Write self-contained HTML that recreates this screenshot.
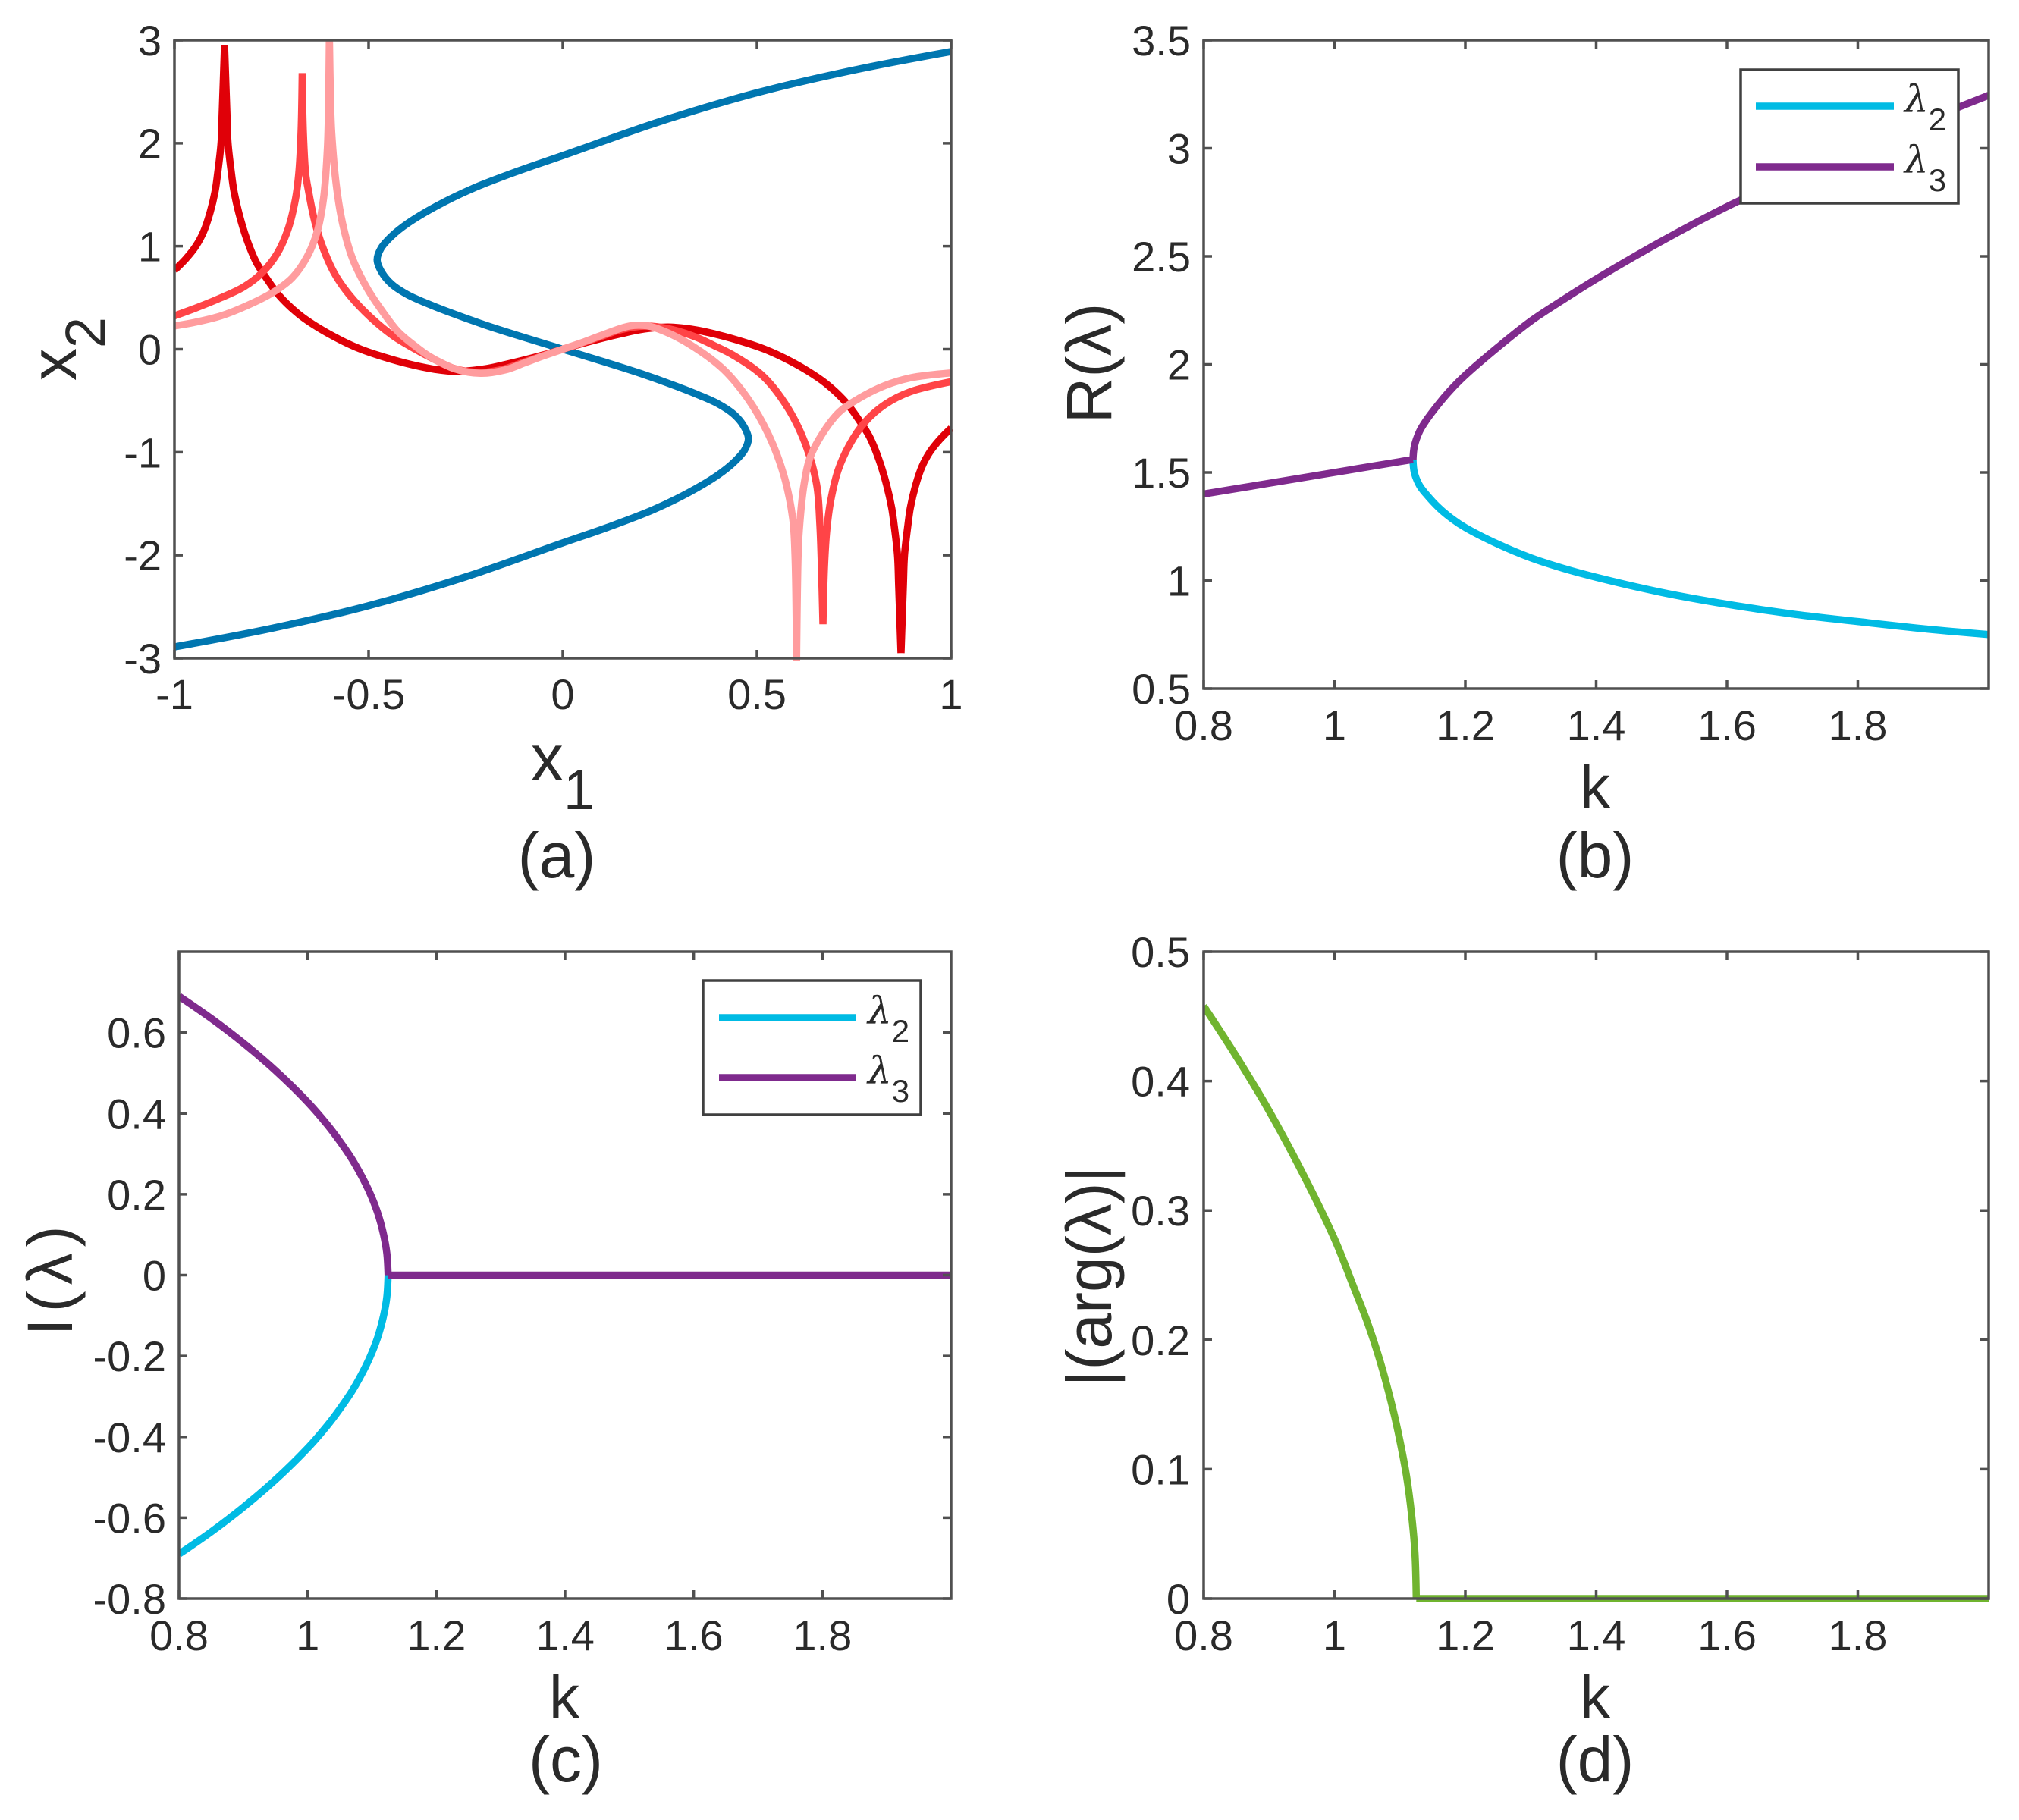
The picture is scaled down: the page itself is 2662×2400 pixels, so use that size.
<!DOCTYPE html>
<html>
<head>
<meta charset="utf-8">
<title>Four panel eigenvalue figure</title>
<style>
html,body{margin:0;padding:0;background:#fff;}
svg{display:block;}
text{font-family:"Liberation Sans",sans-serif;fill:#2a2a2a;}
</style>
</head>
<body>
<svg id="fig" xmlns="http://www.w3.org/2000/svg" width="2662" height="2400" viewBox="0 0 2662 2400">
<rect width="2662" height="2400" fill="#fff"/>
</svg>
<script>
// ---- Panel (a) data ----
const aXTicks = [-1, -0.5, 0, 0.5, 1];
const aXTickLabels = ['-1', '-0.5', '0', '0.5', '1'];
const aYTicks = [-3, -2, -1, 0, 1, 2, 3];
const aYTickLabels = ['-3', '-2', '-1', '0', '1', '2', '3'];
const blueX = [1, 0.75, 0.5, 0.25, 0, -0.115, -0.232, -0.325, -0.4, -0.44, -0.468, -0.478, -0.465, -0.44, -0.4, -0.35, -0.3, -0.2, -0.1, 0, 0.1, 0.2, 0.3, 0.35, 0.4, 0.44, 0.465, 0.478, 0.468, 0.44, 0.4, 0.325, 0.232, 0.115, 0, -0.25, -0.5, -0.75, -1];
const blueY = [2.89, 2.71, 2.49, 2.21, 1.88, 1.73, 1.56, 1.39, 1.22, 1.1, 0.98, 0.867, 0.74, 0.63, 0.53, 0.445, 0.37, 0.235, 0.115, 0, -0.115, -0.235, -0.37, -0.445, -0.53, -0.63, -0.74, -0.867, -0.98, -1.1, -1.22, -1.39, -1.56, -1.73, -1.88, -2.21, -2.49, -2.71, -2.89];
const red1X = [-1, -0.971, -0.945, -0.925, -0.908, -0.895, -0.889, -0.88, -0.877, -0.871, -0.865, -0.862, -0.853, -0.847, -0.834, -0.814, -0.79, -0.765, -0.73, -0.68, -0.63, -0.57, -0.52, -0.47, -0.4, -0.33, -0.27, -0.2, -0.15, -0.1, -0.05, 0, 0.05, 0.1, 0.15, 0.2, 0.27, 0.33, 0.4, 0.47, 0.52, 0.57, 0.63, 0.68, 0.73, 0.765, 0.79, 0.814, 0.834, 0.847, 0.853, 0.862, 0.865, 0.871, 0.877, 0.88, 0.889, 0.895, 0.908, 0.925, 0.945, 0.971, 1];
const red1Y = [0.766, 0.876, 1.0, 1.14, 1.33, 1.54, 1.7, 2.0, 2.3, 2.95, 2.3, 2.0, 1.7, 1.54, 1.32, 1.07, 0.85, 0.7, 0.52, 0.34, 0.21, 0.085, 0.0, -0.065, -0.14, -0.195, -0.215, -0.19, -0.15, -0.105, -0.055, 0, 0.055, 0.105, 0.15, 0.19, 0.215, 0.195, 0.14, 0.065, 0.0, -0.085, -0.21, -0.34, -0.52, -0.7, -0.85, -1.07, -1.32, -1.54, -1.7, -2.0, -2.3, -2.95, -2.3, -2.0, -1.7, -1.54, -1.33, -1.14, -1.0, -0.876, -0.766];
const red2X = [-1, -0.945, -0.88, -0.821, -0.775, -0.736, -0.707, -0.688, -0.68, -0.674, -0.671, -0.668, -0.662, -0.655, -0.639, -0.619, -0.587, -0.548, -0.495, -0.437, -0.38, -0.33, -0.277, -0.212, -0.15, -0.1, -0.05, 0, 0.05, 0.1, 0.15, 0.212, 0.277, 0.341, 0.39, 0.439, 0.517, 0.582, 0.628, 0.654, 0.662, 0.666, 0.67, 0.674, 0.68, 0.69, 0.709, 0.738, 0.778, 0.83, 0.895, 1];
const red2Y = [0.324, 0.4, 0.5, 0.606, 0.74, 0.925, 1.17, 1.465, 1.7, 2.1, 2.68, 2.1, 1.7, 1.54, 1.245, 1.0, 0.73, 0.52, 0.31, 0.13, 0.0, -0.1, -0.19, -0.225, -0.19, -0.125, -0.06, 0, 0.06, 0.125, 0.19, 0.225, 0.195, 0.12, 0.035, -0.058, -0.266, -0.585, -0.953, -1.32, -1.7, -2.1, -2.67, -2.1, -1.75, -1.47, -1.175, -0.93, -0.708, -0.536, -0.413, -0.315];
const red3X = [-1, -0.945, -0.88, -0.814, -0.749, -0.697, -0.658, -0.632, -0.616, -0.606, -0.603, -0.601, -0.598, -0.595, -0.583, -0.567, -0.541, -0.502, -0.463, -0.424, -0.38, -0.343, -0.277, -0.212, -0.147, -0.1, -0.05, 0, 0.05, 0.1, 0.172, 0.22, 0.27, 0.335, 0.413, 0.478, 0.53, 0.569, 0.592, 0.598, 0.602, 0.606, 0.609, 0.621, 0.637, 0.667, 0.712, 0.764, 0.83, 0.895, 1];
const red3Y = [0.226, 0.263, 0.324, 0.422, 0.545, 0.692, 0.9, 1.146, 1.465, 1.96, 2.4, 3.05, 2.4, 2.1, 1.586, 1.22, 0.876, 0.58, 0.36, 0.17, 0.03, -0.07, -0.192, -0.234, -0.2, -0.135, -0.065, 0, 0.065, 0.135, 0.225, 0.225, 0.16, 0.028, -0.193, -0.487, -0.83, -1.22, -1.64, -2.0, -3.05, -2.0, -1.76, -1.32, -1.05, -0.83, -0.61, -0.475, -0.352, -0.278, -0.23];

// ---- Panels (b), (c), (d) shared ticks ----
const kTicks = [0.8, 1, 1.2, 1.4, 1.6, 1.8];
const kTickLabels = ['0.8', '1', '1.2', '1.4', '1.6', '1.8'];

// ---- Panel (b) data ----
const bYTicks = [0.5, 1, 1.5, 2, 2.5, 3, 3.5];
const bYTickLabels = ['0.5', '1', '1.5', '2', '2.5', '3', '3.5'];
const bLambda2K = [1.12, 1.122, 1.13, 1.14, 1.16, 1.18, 1.2, 1.25, 1.3, 1.35, 1.4, 1.5, 1.6, 1.7, 1.8, 1.9, 2];
const bLambda2V = [1.56, 1.5, 1.44, 1.4, 1.335, 1.285, 1.245, 1.168, 1.105, 1.056, 1.015, 0.945, 0.89, 0.845, 0.81, 0.777, 0.75];
const bLambda3LeftK = [0.8, 0.9, 1, 1.1, 1.12];
const bLambda3LeftV = [1.4, 1.45, 1.5, 1.55, 1.56];
const bLambda3RightK = [1.12, 1.122, 1.13, 1.14, 1.16, 1.18, 1.2, 1.25, 1.3, 1.35, 1.4, 1.5, 1.6, 1.7, 1.8, 1.9, 2];
const bLambda3RightV = [1.56, 1.62, 1.69, 1.74, 1.82, 1.89, 1.95, 2.08, 2.2, 2.3, 2.395, 2.57, 2.73, 2.87, 3.0, 3.125, 3.245];

// ---- Panel (c) data ----
const cYTicks = [-0.8, -0.6, -0.4, -0.2, 0, 0.2, 0.4, 0.6];
const cYTickLabels = ['-0.8', '-0.6', '-0.4', '-0.2', '0', '0.2', '0.4', '0.6'];
const cK = [0.8, 0.85, 0.9, 0.95, 1, 1.03, 1.05, 1.07, 1.09, 1.1, 1.11, 1.118, 1.123, 1.125];
const cLambda2V = [-0.69, -0.635, -0.574, -0.506, -0.428, -0.373, -0.331, -0.284, -0.226, -0.191, -0.148, -0.1, -0.054, 0];
const cLambda3V = [0.69, 0.635, 0.574, 0.506, 0.428, 0.373, 0.331, 0.284, 0.226, 0.191, 0.148, 0.1, 0.054, 0];
const cFlatK = [1.125, 1.5, 2];
const cFlatV = [0, 0, 0];

// ---- Panel (d) data ----
const dYTicks = [0, 0.1, 0.2, 0.3, 0.4, 0.5];
const dYTickLabels = ['0', '0.1', '0.2', '0.3', '0.4', '0.5'];
const dK = [0.8, 0.85, 0.9, 0.95, 1, 1.03, 1.05, 1.07, 1.09, 1.1, 1.11, 1.118, 1.123, 1.125];
const dArgV = [0.458, 0.419, 0.377, 0.33, 0.278, 0.24, 0.214, 0.183, 0.145, 0.122, 0.095, 0.064, 0.035, 0];
const dFlatK = [1.125, 1.5, 2];
const dFlatV = [0, 0, 0];

const NS = 'http://www.w3.org/2000/svg';
const root = document.getElementById('fig');
const AXIS = '#505050';
const TICKFONT = 56;
const LINEW = 9.5;

function mk(tag, attrs, parent) {
  const el = document.createElementNS(NS, tag);
  for (const k in attrs) el.setAttribute(k, attrs[k]);
  (parent || root).appendChild(el);
  return el;
}

// centripetal Catmull-Rom through points, as cubic Beziers
function spline(pts) {
  let d = 'M' + pts[0][0].toFixed(2) + ' ' + pts[0][1].toFixed(2);
  const dist = (a, b) => Math.pow(Math.hypot(a[0] - b[0], a[1] - b[1]), 0.5) || 1e-6;
  for (let i = 0; i < pts.length - 1; i++) {
    const p0 = pts[i - 1] || pts[i], p1 = pts[i], p2 = pts[i + 1], p3 = pts[i + 2] || p2;
    const d1 = i === 0 ? 0 : dist(p0, p1), d2 = dist(p1, p2), d3 = i === pts.length - 2 ? 0 : dist(p2, p3);
    const c1 = [p1[0], p1[1]], c2 = [p2[0], p2[1]];
    if (d1 > 0) for (let j = 0; j < 2; j++) {
      c1[j] = (d1 * d1 * p2[j] - d2 * d2 * p0[j] + (2 * d1 * d1 + 3 * d1 * d2 + d2 * d2) * p1[j]) / (3 * d1 * (d1 + d2));
    }
    if (d3 > 0) for (let j = 0; j < 2; j++) {
      c2[j] = (d3 * d3 * p1[j] - d2 * d2 * p3[j] + (2 * d3 * d3 + 3 * d3 * d2 + d2 * d2) * p2[j]) / (3 * d3 * (d3 + d2));
    }
    d += 'C' + c1[0].toFixed(2) + ' ' + c1[1].toFixed(2) + ' ' + c2[0].toFixed(2) + ' ' + c2[1].toFixed(2) + ' ' + p2[0].toFixed(2) + ' ' + p2[1].toFixed(2);
  }
  return d;
}

let clipCount = 0;
function makePanel(p) {
  const g = mk('g', {});
  
  
  const sx = v => p.left + (v - p.xMin) / (p.xMax - p.xMin) * (p.right - p.left);
  const sy = v => p.bottom - (v - p.yMin) / (p.yMax - p.yMin) * (p.bottom - p.top);
  const clipId = 'clip' + (clipCount++);
  const cp = mk('clipPath', { id: clipId }, g);
  mk('rect', { x: p.left, y: p.top - 1, width: p.right - p.left + 2, height: p.bottom - p.top + 5 }, cp);
  const plot = mk('g', { 'clip-path': 'url(#' + clipId + ')' }, g);
  
  
  return { g, plot, sx, sy };
}

function drawCurve(ctx, xs, ys, color, name, cusps) {
  const cuts = [0].concat(cusps || [], [xs.length - 1]);
  let d = '';
  for (let c = 0; c < cuts.length - 1; c++) {
    const pts = [];
    for (let i = cuts[c]; i <= cuts[c + 1]; i++) pts.push([ctx.sx(xs[i]), ctx.sy(ys[i])]);
    d += spline(pts);
  }
  const el = mk('path', { d: d, fill: 'none', stroke: color, 'stroke-width': LINEW, 'stroke-linejoin': 'round', 'stroke-linecap': 'butt' }, ctx.plot);
  
  
  return el;
}

function drawAxes(ctx, p) {
  const frame = mk('rect', { x: p.left, y: p.top, width: p.right - p.left, height: p.bottom - p.top, fill: 'none', stroke: AXIS, 'stroke-width': 3.5 }, ctx.g);
  
  
  p.xTicks.forEach((v, i) => {
    const x = ctx.sx(v);
    const t1 = mk('path', { d: 'M' + x + ' ' + p.bottom + 'V' + (p.bottom - 11) + 'M' + x + ' ' + p.top + 'V' + (p.top + 11), stroke: AXIS, 'stroke-width': 3.5, fill: 'none' }, ctx.g);
    
    
    const lab = mk('text', { x: x, y: p.xTickBase, 'font-size': TICKFONT, 'text-anchor': 'middle' }, ctx.g);
    lab.textContent = p.xLabels[i];
    
    
  });
  p.yTicks.forEach((v, i) => {
    const y = ctx.sy(v);
    const t2 = mk('path', { d: 'M' + p.left + ' ' + y + 'H' + (p.left + 11) + 'M' + p.right + ' ' + y + 'H' + (p.right - 11), stroke: AXIS, 'stroke-width': 3.5, fill: 'none' }, ctx.g);
    
    
    const lab = mk('text', { x: p.yTickRight, y: y + 20, 'font-size': TICKFONT, 'text-anchor': 'end' }, ctx.g);
    lab.textContent = p.yLabels[i];
    
    
  });
}

function drawLegend(box) {
  const g = mk('g', {});
  
  
  mk('rect', { x: box.x, y: box.y, width: box.w, height: box.h, fill: '#fff', stroke: '#404040', 'stroke-width': 3.5 }, g);
  const rows = [['2', '#00bbe4', box.y1], ['3', '#7f2a8d', box.y2]];
  rows.forEach(r => {
    const l = mk('line', { x1: box.lx1, x2: box.lx2, y1: r[2], y2: r[2], stroke: r[1], 'stroke-width': LINEW }, g);
    
    
    const t = mk('text', { x: box.tx, y: r[2] + 8, 'font-size': 50, style: 'font-family:"DejaVu Serif","Liberation Serif",serif;font-style:italic' }, g);
    
    
    t.textContent = 'λ';
    const s = mk('tspan', { dy: 24, 'font-size': 42, style: 'font-family:"Liberation Sans",sans-serif;font-style:normal' }, t);
    s.textContent = r[0];
  });
}

function label(txt, x, y, size, rot, name, spacing) {
  const attrs = { x: x, y: y, 'font-size': size, 'text-anchor': 'middle' };
  if (spacing) attrs['letter-spacing'] = spacing;
  if (rot) attrs.transform = 'rotate(-90 ' + x + ' ' + y + ')';
  const t = mk('text', attrs);
  t.textContent = txt;
  
  
  return t;
}

function labelSub(main, sub, x, y, size, subSize, dy, rot, name) {
  const attrs = { x: x, y: y, 'font-size': size, 'text-anchor': 'middle' };
  if (rot) attrs.transform = 'rotate(-90 ' + x + ' ' + y + ')';
  const t = mk('text', attrs);
  
  
  const a = mk('tspan', {}, t);
  a.textContent = main;
  const b = mk('tspan', { dy: dy, 'font-size': subSize }, t);
  b.textContent = sub;
  return t;
}

// ---------- Panel (a)
const pa = { name: 'panel-a', left: 230, right: 1254, top: 53, bottom: 868, xMin: -1, xMax: 1, yMin: -3, yMax: 3,
  xTicks: aXTicks, xLabels: aXTickLabels, yTicks: aYTicks, yLabels: aYTickLabels, xTickBase: 935, yTickRight: 213 };
const ctxA = makePanel(pa);
drawCurve(ctxA, blueX, blueY, '#0076b0', 'curve-blue');
drawCurve(ctxA, red1X, red1Y, '#e00008', 'curve-red-dark', [red1Y.indexOf(Math.max(...red1Y)), red1Y.indexOf(Math.min(...red1Y))]);
drawCurve(ctxA, red2X, red2Y, '#ff4447', 'curve-red-medium', [red2Y.indexOf(Math.max(...red2Y)), red2Y.indexOf(Math.min(...red2Y))]);
drawCurve(ctxA, red3X, red3Y, '#ff9c9e', 'curve-red-light', [red3Y.indexOf(Math.max(...red3Y)), red3Y.indexOf(Math.min(...red3Y))]);
drawAxes(ctxA, pa);
labelSub('x', '1', 742, 1029, 86, 74, 38, false, 'x-axis-title-a');
labelSub('x', '2', 100, 460, 86, 74, 38, true, 'y-axis-title-a');
label('(a)', 734, 1157, 84, false, 'caption-a');

// ---------- Panel (b)
const pb = { name: 'panel-b', left: 1587, right: 2622, top: 53, bottom: 908, xMin: 0.8, xMax: 2, yMin: 0.5, yMax: 3.5,
  xTicks: kTicks, xLabels: kTickLabels, yTicks: bYTicks, yLabels: bYTickLabels, xTickBase: 976, yTickRight: 1570 };
const ctxB = makePanel(pb);
drawCurve(ctxB, bLambda2K, bLambda2V, '#00bbe4', 'curve-lambda2');
drawCurve(ctxB, bLambda3LeftK, bLambda3LeftV, '#7f2a8d', 'curve-lambda3-left');
drawCurve(ctxB, bLambda3RightK, bLambda3RightV, '#7f2a8d', 'curve-lambda3-right');
drawAxes(ctxB, pb);
drawLegend({ x: 2295, y: 92, w: 287, h: 176, y1: 140, y2: 220, lx1: 2315, lx2: 2497, tx: 2511 });
label('k', 2103, 1065, 80, false, 'x-axis-title-b');
label('R(λ)', 1465, 479, 84, true, 'y-axis-title-b');
label('(b)', 2103, 1157, 84, false, 'caption-b');

// ---------- Panel (c)
const pc = { name: 'panel-c', left: 236, right: 1254, top: 1255, bottom: 2108, xMin: 0.8, xMax: 2, yMin: -0.8, yMax: 0.8,
  xTicks: kTicks, xLabels: kTickLabels, yTicks: cYTicks, yLabels: cYTickLabels, xTickBase: 2176, yTickRight: 219 };
const ctxC = makePanel(pc);
drawCurve(ctxC, cK, cLambda2V, '#00bbe4', 'curve-lambda2');
drawCurve(ctxC, cK, cLambda3V, '#7f2a8d', 'curve-lambda3');
drawCurve(ctxC, cFlatK, cFlatV, '#7f2a8d', 'curve-lambda-flat');
drawAxes(ctxC, pc);
drawLegend({ x: 927, y: 1293, w: 287, h: 177, y1: 1342, y2: 1421, lx1: 948, lx2: 1129, tx: 1144 });
label('k', 744, 2265, 80, false, 'x-axis-title-c');
label('I(λ)', 95, 1685, 84, true, 'y-axis-title-c', 8);
label('(c)', 746, 2349, 84, false, 'caption-c');

// ---------- Panel (d)
const pd = { name: 'panel-d', left: 1587, right: 2622, top: 1255, bottom: 2108, xMin: 0.8, xMax: 2, yMin: 0, yMax: 0.5,
  xTicks: kTicks, xLabels: kTickLabels, yTicks: dYTicks, yLabels: dYTickLabels, xTickBase: 2176, yTickRight: 1569 };
const ctxD = makePanel(pd);
drawCurve(ctxD, dK, dArgV, '#70b42f', 'curve-arg');
drawCurve(ctxD, dFlatK, dFlatV, '#70b42f', 'curve-arg-flat');
drawAxes(ctxD, pd);
label('k', 2103, 2265, 80, false, 'x-axis-title-d');
label('|(arg(λ)|', 1465, 1683, 84, true, 'y-axis-title-d');
label('(d)', 2103, 2349, 84, false, 'caption-d');
</script>
</body>
</html>
